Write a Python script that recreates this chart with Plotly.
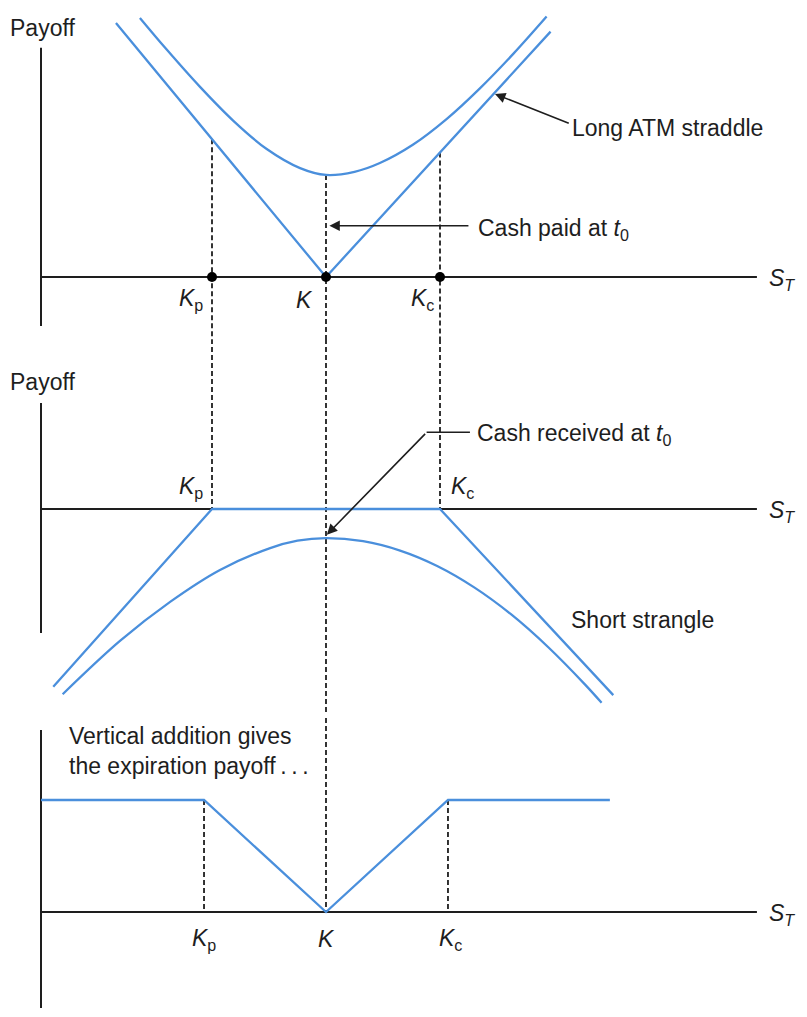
import plotly.graph_objects as go

W, H = 807, 1017

# ---------------- data (S_T units on x, payoff units on y) ----------------
strikes_top = [60, 100, 140]            # Kp, K, Kc as drawn in panels 1-2
strikes_bottom = [57.2, 100, 142.8]     # Kp, K, Kc as drawn in panel 3
strike_names = ["<i>K</i><sub>p</sub>", "<i>K</i>", "<i>K</i><sub>c</sub>"]

# Panel 1: long ATM straddle
straddle_exp_x = [26.3, 100, 178.8]
straddle_exp_y = [89.1, 0, 86.1]
straddle_val_x = [34.7, 44.1, 55.8, 67.5, 79.2, 90.9, 100, 110, 118.9, 130.6, 142.4, 154.0, 165.7, 177.4]
straddle_val_y = [90.9, 79.8, 66.7, 54.8, 44.9, 38.2, 35.8, 36.9, 40.0, 46.5, 55.5, 66.2, 78.3, 91.4]

# Panel 2: short strangle
strangle_exp_x = [4.3, 60, 140, 200.8]
strangle_exp_y = [-62.4, 0, 0, -65.3]
strangle_val_x = [7.6, 27.7, 45.3, 62.8, 80.4, 90, 100, 113, 126, 139, 152, 165, 178, 191, 196.7]
strangle_val_y = [-65.0, -46.3, -32.6, -21.4, -13.7, -11.1, -10.2, -11.3, -14.6, -20.0, -27.5,
                  -37.0, -48.5, -61.7, -68.0]

# Panel 3: vertical addition at expiration
combo_x = [0, 57.2, 100, 142.8, 199.6]
combo_y = [39.3, 39.3, 0, 39.3, 39.3]

# axis extents (S_T end, payoff axis spans per panel)
st_axis_end = 251.2
payoff_axis_spans = [(-17.2, 80.4), (-43.5, 37.2), (-33.7, 63.9)]

# ---------------- layout geometry ----------------
K_PX = 2.85          # pixels per unit
X0_PX = 41           # pixel column of S_T = 0
panels_px = [(0, 340, 277), (340, 715, 509), (715, 1017, 912)]  # top, bottom, zero line

BLUE = "#4a8fdc"
INK = "#1e1e1e"
FONT = "Liberation Sans, Arial, Helvetica, sans-serif"
FS = 23

def px_x(px):
    return px / W

def px_y(py):
    return 1 - py / H

fig = go.Figure()

def add_line(x, y, panel, color=BLUE, width=2.3, dash=None, shape="linear"):
    fig.add_trace(go.Scatter(
        x=x, y=y, mode="lines",
        line=dict(color=color, width=width, dash=dash, shape=shape, smoothing=1.0),
        xaxis="x" if panel == 1 else f"x{panel}",
        yaxis="y" if panel == 1 else f"y{panel}",
        hoverinfo="skip", showlegend=False))

DASH = "5px,3px"
DW = 1.8

# axes (drawn as traces)
for p in (1, 2, 3):
    lo, hi = payoff_axis_spans[p - 1]
    add_line([0, 0], [lo, hi], p, color=INK, width=2)
    add_line([0, st_axis_end], [0, 0], p, color=INK, width=2)

# dashed strike guides
def v_at(xs, ys, x):
    for i in range(len(xs) - 1):
        if xs[i] <= x <= xs[i + 1]:
            t = (x - xs[i]) / (xs[i + 1] - xs[i])
            return ys[i] + t * (ys[i + 1] - ys[i])
    return 0

kp, k, kc = strikes_top
add_line([kp, kp], [v_at(straddle_exp_x, straddle_exp_y, kp), -200], 1, INK, DW, DASH)
add_line([kc, kc], [v_at(straddle_exp_x, straddle_exp_y, kc), -200], 1, INK, DW, DASH)
add_line([k, k], [min(straddle_val_y), -200], 1, INK, DW, DASH)
add_line([kp, kp], [200, 0], 2, INK, DW, DASH)
add_line([kc, kc], [200, 0], 2, INK, DW, DASH)
add_line([k, k], [200, -200], 2, INK, DW, DASH)
add_line([k, k], [200, 0], 3, INK, DW, DASH)
bkp, bk, bkc = strikes_bottom
add_line([bkp, bkp], [combo_y[1], 0], 3, INK, DW, DASH)
add_line([bkc, bkc], [combo_y[3], 0], 3, INK, DW, DASH)

# payoff lines
add_line(straddle_exp_x, straddle_exp_y, 1)
add_line(straddle_val_x, straddle_val_y, 1, shape="spline")
add_line(strangle_exp_x, strangle_exp_y, 2)
add_line(strangle_val_x, strangle_val_y, 2, shape="spline")
add_line(combo_x, combo_y, 3)

# strike dots panel 1
fig.add_trace(go.Scatter(x=strikes_top, y=[0, 0, 0], mode="markers",
                         marker=dict(color="black", size=10),
                         xaxis="x", yaxis="y", hoverinfo="skip", showlegend=False))

# "cash received" leader horizontal segment (panel 2)
recv_tail = (150.5, 26.9)
recv_knee = (135.3, 26.9)
add_line([recv_tail[0], recv_knee[0]], [recv_tail[1], recv_knee[1]], 2, INK, 1.5)

# ---------------- axes config ----------------
xrange = [(0 - X0_PX) / K_PX, (W - X0_PX) / K_PX]
layout_axes = {}
for i, (top, bot, zero) in enumerate(panels_px, start=1):
    sfx = "" if i == 1 else str(i)
    yr = [-(bot - zero) / K_PX, (zero - top) / K_PX]
    layout_axes[f"xaxis{sfx}"] = dict(range=xrange, domain=[0, 1], visible=False,
                                      anchor=f"y{sfx}", fixedrange=True)
    layout_axes[f"yaxis{sfx}"] = dict(range=yr, domain=[1 - bot / H, 1 - top / H],
                                      visible=False, anchor=f"x{sfx}", fixedrange=True)

annotations = []

def text(t, x_px, y_px, xanchor="left", yanchor="middle", size=FS):
    annotations.append(dict(text=t, x=px_x(x_px), y=px_y(y_px), xref="paper", yref="paper",
                            xanchor=xanchor, yanchor=yanchor, showarrow=False,
                            font=dict(family=FONT, size=size, color=INK), align="left"))

def arrow(panel, tip, tail):
    sfx = "" if panel == 1 else str(panel)
    annotations.append(dict(text="", x=tip[0], y=tip[1], ax=tail[0], ay=tail[1],
                            xref=f"x{sfx}", yref=f"y{sfx}", axref=f"x{sfx}", ayref=f"y{sfx}",
                            showarrow=True, arrowhead=2, arrowsize=1.3, arrowwidth=1.6,
                            arrowcolor=INK, standoff=0, font=dict(family=FONT, size=FS)))

# labels
text("Payoff", 8, 28)
text("Payoff", 8, 382)
S_T = "<i>S</i><sub><i>T</i></sub>"
for zero in (277, 509, 912):
    text(S_T, 767, zero + 2)

# strike labels
text(strike_names[0], 205, 300, xanchor="right")
text(strike_names[1], 315, 300, xanchor="right")
text(strike_names[2], 436, 300, xanchor="right")
text(strike_names[0], 205, 487, xanchor="right")
text(strike_names[2], 449, 487, xanchor="left")
text(strike_names[0], 204, 939, xanchor="center")
text(strike_names[1], 326, 939, xanchor="center")
text(strike_names[2], 451, 939, xanchor="center")

text("Long ATM straddle", 570, 128)
text("Cash paid at <i>t</i><sub>0</sub>", 476, 229)
text("Cash received at <i>t</i><sub>0</sub>", 475, 435)
text("Short strangle", 569, 620)
text("Vertical addition gives<br>the expiration payoff\u2009.\u2009.\u2009.", 67, 751)

# arrows
arrow(1, (159.3, 64.2), (185.7, 53.7))
arrow(1, (101.2, 18.0), (150.5, 18.0))
arrow(2, (100.3, -9.0), recv_knee)

fig.update_layout(
    width=W, height=H, autosize=False,
    margin=dict(l=0, r=0, t=0, b=0),
    paper_bgcolor="white", plot_bgcolor="white",
    showlegend=False, annotations=annotations,
    font=dict(family=FONT, size=FS, color=INK),
    **layout_axes)

fig.write_html("out.html", config=dict(displayModeBar=False),
               post_script="document.body.style.margin='0';document.body.style.overflow='hidden';")
